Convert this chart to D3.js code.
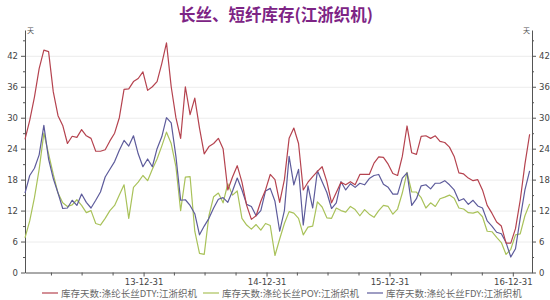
<!DOCTYPE html>
<html><head><meta charset="utf-8">
<script src="https://cdn.jsdelivr.net/npm/d3@7"></script>
<style>
html,body{margin:0;padding:0;background:#fff;}
svg{display:block;}
</style></head>
<body><svg id="c" width="550" height="300"></svg>
<script>
const seriesNames = ["库存天数:涤纶长丝DTY:江浙织机","库存天数:涤纶长丝POY:江浙织机","库存天数:涤纶长丝FDY:江浙织机"];
const startDate = "2013-01-13";
const stepDays = 14;
const dty = [25.8,29.5,34,39.5,43.1,42.8,35,30.4,28.5,25,26.4,26.2,27.7,26.5,26,23.5,23.5,23.8,25.5,27,30,35.5,35.6,37,37.6,38.9,35.3,36,37,40.5,44.5,36,30,26,36,30.6,33.8,28,23,24.4,25,26,24,16,18.5,20.7,17.5,13,10.3,11,13.8,16,19,18,13.6,18,26,28,25,16,17.5,18.6,19.6,20.5,17.6,13.5,15.5,17.5,17,17.6,17,19,19,19,21.2,22.4,22.3,21,19.2,18.8,22.5,28.4,23.2,22.9,26.4,26.5,26,26.5,25.4,25.2,24.3,22.5,19.3,19.1,18.3,17.8,18,16,13,11.5,9.8,9,5.7,5.7,8.5,14,21,26.8];
const poy = [6.7,10,14.5,20,27,23,19,15.4,13.5,12.8,13.1,14.1,13,11.6,12,9.5,9.2,10.5,12,13,15,17,10.5,16.5,17.5,18.8,17.8,20,22,24.5,27.2,25,20.5,12,18.5,18.6,8,3.7,3.5,11,14.7,15.4,13.5,17.2,15,15.8,10.5,9.2,8.4,9.3,8.2,9.5,9.1,3.3,6.5,9.5,11.8,11.5,10.5,7.3,8.8,9,13.7,12.7,10.6,10.5,12.5,12,11.7,12.8,12.2,11,12.2,11.3,10.7,12,13,12.8,11.3,12.3,15.4,19.4,15.6,15.6,14.5,12.5,13.5,12.8,14.3,14.6,15,14.4,12.5,12.3,11.6,11.5,11.8,10.8,8,7.9,6.8,5.8,3.5,4.5,7.3,7.5,11,13.3];
const fdy = [15.4,18.8,20.2,22.8,28.5,22,18.2,15.4,12.4,12.5,14,13,15.2,13.6,12.5,14,15.6,18.5,20,21.5,23.7,25.6,24.5,26.5,23,20.5,22,20.5,24,26.3,30,29,22.5,14,14.1,13,11.4,7.3,9,10.5,12.5,14.2,14.5,13.6,15.8,18.3,16,13.2,12.8,11,12,15.8,16.3,13.8,8,12,22.5,17,20,9.2,16.8,12.5,19.7,17.6,15.5,12.4,13.5,17.6,16,17.2,16.5,17.3,17,18.2,18.8,19,17.1,16.5,15.2,15.2,18.3,19.3,13,14.3,16.8,17,16.2,17.3,17.3,17.8,17,16,13.9,14.3,13.2,14,12.9,12.5,10,9,7.8,7.5,5.8,3,4.6,10.5,16,19.7];
const yTicks = [0,6,12,18,24,30,36,42];
const xLabelYears = ["13-12-31","14-12-31","15-12-31","16-12-31"];
const colors = ["#b5434f","#a9c25a","#5d5b9b"];

const parse = d3.timeParse("%Y-%m-%d");
const t0 = parse(startDate);
const dates = dty.map((_, i) => d3.timeDay.offset(t0, i * stepDays));

const svg = d3.select("#c");
const m = {l:25, r:18, t:30, b:28};
const W = 550, H = 300;
const x = d3.scaleTime().domain([t0, parse("2017-02-26")]).range([m.l, W - m.r]);
const y = d3.scaleLinear().domain([0, 47]).range([272.5, m.t]);

// title
svg.append("text").attr("x", 276).attr("y", 21).attr("text-anchor","middle")
  .attr("font-family","'Noto Sans CJK SC'").attr("font-weight","bold").attr("font-size",16.5)
  .attr("fill","#7d2485").text("长丝、短纤库存(江浙织机)");

// grid
svg.append("g").selectAll("line").data(yTicks.filter(d=>d>0)).join("line")
  .attr("x1", x.range()[0]).attr("x2", x.range()[1])
  .attr("y1", d=>y(d)+0.5).attr("y2", d=>y(d)+0.5)
  .attr("stroke","#ececec").attr("stroke-width",1);

const axisStyle = g => {
  g.selectAll("path,line").attr("stroke","#555");
  g.selectAll("text").attr("fill","#444").attr("font-family","'DejaVu Sans'").attr("font-size",8.5);
};

// y axes
const minor = d3.range(3, 47, 6);
svg.append("g").attr("transform",`translate(${m.l},0)`)
  .call(d3.axisLeft(y).tickValues(yTicks).tickSize(4).tickPadding(3).tickSizeOuter(0)).call(axisStyle);
svg.append("g").attr("transform",`translate(${m.l},0)`)
  .call(d3.axisLeft(y).tickValues(minor).tickSize(2).tickFormat("")).call(axisStyle)
  .select(".domain").remove();
svg.append("g").attr("transform",`translate(${W-m.r},0)`)
  .call(d3.axisRight(y).tickValues(yTicks).tickSize(4).tickPadding(3).tickSizeOuter(0)).call(axisStyle);
svg.append("g").attr("transform",`translate(${W-m.r},0)`)
  .call(d3.axisRight(y).tickValues(minor).tickSize(2).tickFormat("")).call(axisStyle)
  .select(".domain").remove();

// unit labels
svg.append("text").attr("x", m.l+2).attr("y", 33).attr("font-size",7).attr("fill","#555")
  .attr("font-family","'Noto Sans CJK SC'").text("天");
svg.append("text").attr("x", W-m.r-2).attr("y", 33).attr("font-size",7).attr("fill","#555")
  .attr("text-anchor","end").attr("font-family","'Noto Sans CJK SC'").text("天");

// x axis
const quarterEnds = d3.timeMonth.range(parse("2013-04-01"), parse("2017-02-01"), 3).map(d => d3.timeDay.offset(d, -1));
const fmt = d3.timeFormat("%y-%m-%d");
svg.append("g").attr("transform",`translate(0,${y(0)})`)
  .call(d3.axisBottom(x).tickValues(quarterEnds).tickSize(3).tickPadding(3).tickSizeOuter(0)
    .tickFormat(d => { const s = fmt(d); return xLabelYears.includes(s) ? s : ""; }))
  .call(axisStyle)
  .call(g => g.selectAll(".tick").filter(d => d.getMonth() === 11).select("line").attr("y2", 4));

// lines
const allSeries = [dty, poy, fdy];
const line = d3.line().x((d,i)=>x(dates[i])).y(d=>y(d));
const order = [1, 2, 0];
svg.append("g").selectAll("path").data(order).join("path")
  .attr("d", k => line(allSeries[k]))
  .attr("fill","none").attr("stroke", k => colors[k]).attr("stroke-width",1.2)
  .attr("stroke-linejoin","round");

// legend
const legX = [42, 203, 367];
const lg = svg.append("g").selectAll("g").data(seriesNames).join("g")
  .attr("transform",(d,i)=>`translate(${legX[i]},293)`);
lg.append("line").attr("x1",0).attr("x2",16).attr("y1",0).attr("y2",0)
  .attr("stroke",(d,i)=>colors[i]).attr("stroke-width",1.2);
lg.append("text").attr("x",19).attr("y",3.5).attr("font-size",9.5).attr("fill","#666")
  .attr("font-family","'Noto Sans CJK SC'").text(d=>d);
</script></body></html>
